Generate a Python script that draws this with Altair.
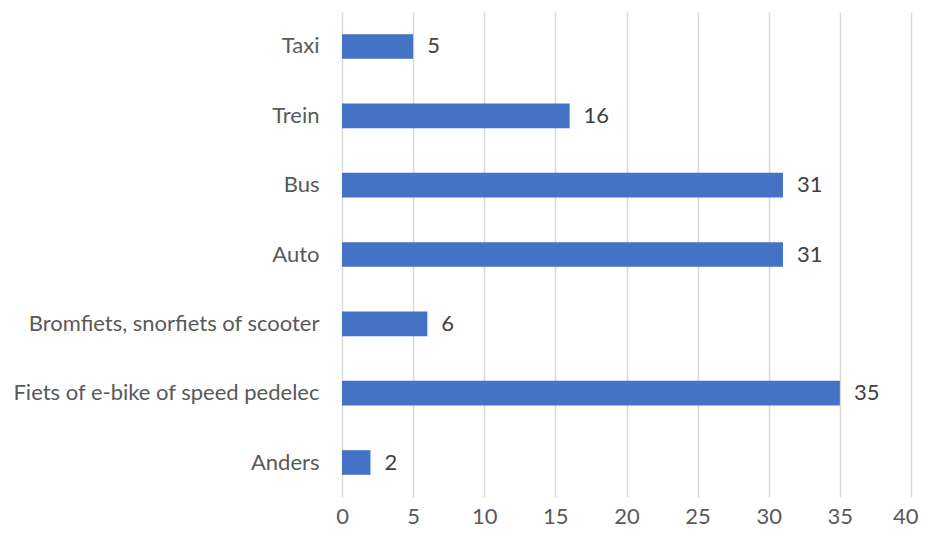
import altair as alt
import pandas as pd

categories = ["Taxi", "Trein", "Bus", "Auto", "Bromfiets, snorfiets of scooter",
              "Fiets of e-bike of speed pedelec", "Anders"]
values = [5, 16, 31, 31, 6, 35, 2]

df = pd.DataFrame({"cat": categories, "val": values})

FONT = "Lato"
TXT = "#595959"

base = alt.Chart(df).encode(
    y=alt.Y("cat:N", sort=categories, title=None,
            scale=alt.Scale(paddingInner=0.645, paddingOuter=0.32),
            axis=alt.Axis(domain=False, ticks=False, labelFont=FONT, labelFontSize=22,
                          labelColor=TXT, labelPadding=23, labelLimit=400)),
    x=alt.X("val:Q", title=None,
            scale=alt.Scale(domain=[0, 40], nice=False),
            axis=alt.Axis(values=[0, 5, 10, 15, 20, 25, 30, 35, 40], domain=False, ticks=False,
                          labelFont=FONT, labelFontSize=22, labelColor=TXT, labelPadding=9,
                          labelFlush=False,
                          labelAlign={"condition": {"test": "datum.value == 40", "value": "right"},
                                      "value": "center"},
                          labelOffset={"condition": {"test": "datum.value == 40", "value": 7},
                                       "value": 0},
                          gridColor="#D9D9D9", gridWidth=1.5)),
)

bars = base.mark_bar(color="#4472C4")
labels = base.mark_text(align="left", dx=14, font=FONT, fontSize=22, color="#404040").encode(
    text="val:Q")

chart = (bars + labels).properties(
    width=569, height=485,
    autosize=alt.AutoSizeParams(type="none"),
    padding={"left": 334, "top": 4, "right": 8, "bottom": 33},
).configure_view(stroke=None)

chart.save("out.html", embed_options={"renderer": "svg", "actions": False})
